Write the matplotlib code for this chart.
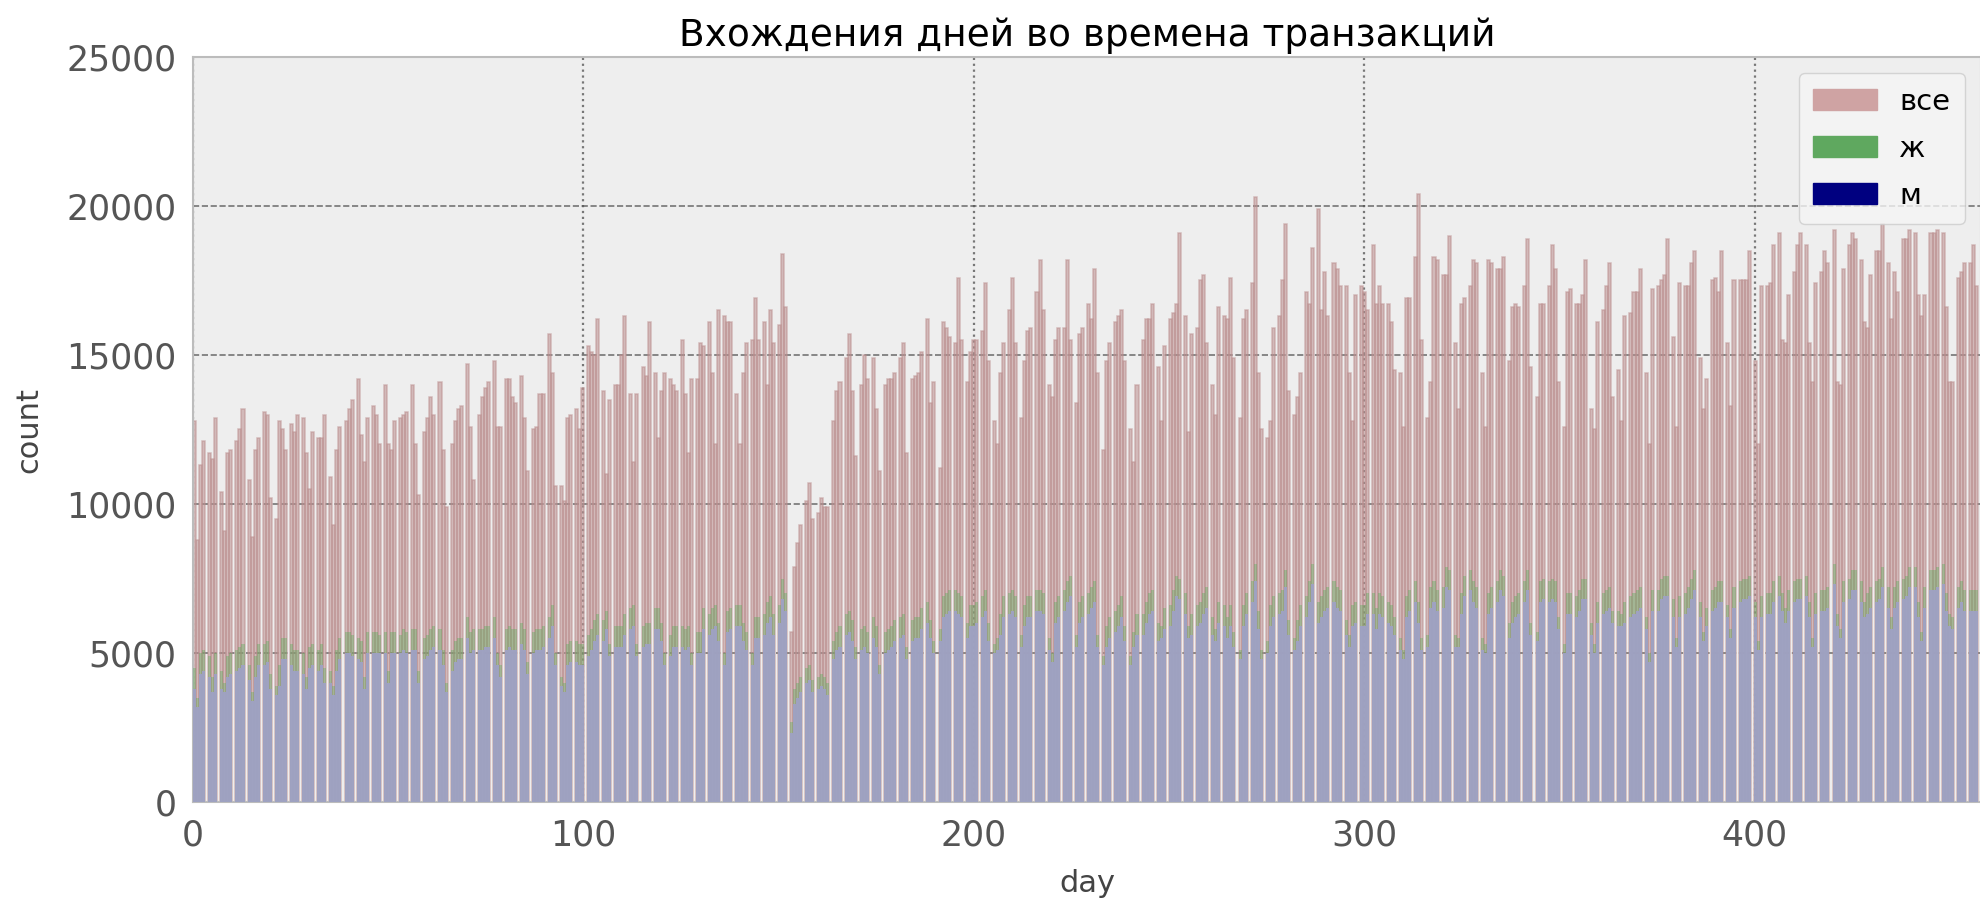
import matplotlib.pyplot as plt
import matplotlib.patches as mpatches
import numpy as np

# daily counts, in hundreds of transactions
vse = [128, 88, 113, 121, 117, 115, 129, 104, 91, 117,
       118, 121, 125, 132, 108, 89, 118, 122, 131, 130,
       102, 95, 128, 125, 118, 127, 124, 130, 129, 117,
       105, 124, 122, 122, 130, 109, 93, 118, 126, 128,
       132, 135, 142, 123, 114, 129, 133, 130, 120, 140,
       120, 118, 128, 129, 130, 131, 140, 120, 103, 124,
       129, 136, 130, 141, 118, 99, 120, 128, 132, 133,
       147, 126, 108, 130, 136, 139, 141, 148, 126, 126,
       142, 142, 136, 134, 143, 129, 111, 125, 126, 137,
       137, 157, 144, 106, 106, 101, 129, 130, 132, 125,
       139, 153, 151, 150, 162, 138, 110, 135, 140, 140,
       150, 163, 137, 114, 137, 146, 143, 161, 144, 122,
       138, 144, 142, 140, 138, 155, 137, 117, 142, 142,
       154, 153, 161, 144, 120, 165, 163, 161, 161, 137,
       120, 144, 154, 155, 169, 155, 161, 140, 165, 154,
       160, 184, 166, 57, 79, 87, 93, 101, 107, 95,
       97, 102, 99, 99, 128, 138, 141, 149, 157, 138,
       116, 140, 150, 142, 149, 132, 111, 140, 142, 142,
       144, 149, 154, 117, 142, 143, 144, 151, 162, 134,
       141, 112, 161, 159, 156, 154, 176, 155, 141, 151,
       155, 155, 158, 174, 148, 128, 120, 144, 154, 165,
       176, 154, 129, 148, 158, 159, 171, 182, 165, 140,
       136, 155, 159, 159, 182, 155, 134, 157, 159, 167,
       162, 179, 144, 118, 148, 154, 161, 163, 165, 148,
       125, 114, 140, 155, 162, 162, 167, 146, 128, 153,
       162, 164, 167, 191, 163, 124, 157, 159, 175, 177,
       154, 140, 130, 166, 163, 162, 176, 149, 129, 162,
       165, 174, 203, 144, 125, 122, 128, 159, 163, 175,
       194, 138, 130, 136, 144, 171, 167, 186, 199, 165,
       178, 163, 181, 179, 173, 173, 144, 128, 170, 173,
       171, 165, 187, 167,
       173, 167, 167, 161, 145, 144, 126, 169, 169, 183,
       204, 155, 129, 141, 183, 182, 177, 177, 190, 154,
       132, 167, 169, 173, 182, 181, 144, 126, 182, 181,
       179, 179, 183, 148, 166, 167, 166, 173, 189, 146,
       136, 167, 167, 173, 187, 179, 141, 126, 171, 172,
       167, 167, 170, 182, 132, 125, 161, 165, 173, 181,
       136, 145, 128, 163, 164, 171, 171, 179, 144, 120,
       172, 173, 175, 177, 189, 156, 126, 174, 173, 173,
       181, 185, 149, 132, 142, 175, 176, 171, 185, 154,
       133, 175, 175, 175, 175, 185, 148, 120, 173, 173,
       174, 187, 191, 155, 154, 170, 178, 187, 191, 187,
       154, 141, 174, 178, 185, 181, 192, 141, 140, 179,
       187, 191, 189, 182, 161, 159, 177, 185, 185, 194,
       181, 162, 178, 171, 189, 189, 192, 191, 170, 163,
       170, 191, 191, 192, 191, 166, 141, 141, 176, 178,
       181, 181, 187, 173]

zh = [45, 35, 50, 51, 49, 42, 50, 44, 40, 49,
      50, 51, 52, 53, 46, 37, 49, 53, 53, 54,
      43, 39, 46, 55, 55, 53, 51, 51, 50, 42,
      52, 53, 51, 53, 45, 44, 39, 51, 55, 57,
      57, 56, 55, 54, 42, 57, 57, 57, 56, 57,
      44, 57, 57, 56, 58, 57, 58, 58, 44, 55,
      56, 58, 59, 58, 51, 40, 51, 54, 55, 55,
      62, 57, 58, 58, 58, 59, 59, 62, 50, 46,
      58, 59, 58, 58, 60, 58, 47, 57, 58, 58,
      59, 62, 66, 50, 42, 40, 53, 54, 54, 53,
      53, 56, 58, 61, 63, 61, 64, 53, 59, 59,
      59, 63, 65, 66, 53, 59, 60, 60, 65, 65,
      60, 50, 56, 59, 59, 59, 58, 59, 50, 57,
      57, 65, 63, 65, 66, 60, 50, 64, 65, 66,
      66, 60, 57, 50, 62, 62, 63, 67, 69, 63,
      66, 75, 70, 27, 38, 40, 42, 45, 46, 41,
      42, 43, 42, 40, 54, 57, 59, 63, 64, 61,
      52, 58, 59, 57, 62, 59, 46, 57, 58, 59,
      61, 62, 63, 52, 61, 62, 62, 65, 67, 61,
      54, 58, 69, 70, 71, 71, 70, 69, 60, 66,
      66, 67, 69, 71, 60, 53, 55, 63, 69, 70,
      71, 69, 56, 66, 69, 69, 71, 71, 70, 55,
      50, 67, 69, 71, 74, 76, 56, 67, 69, 70,
      72, 74, 56, 49, 59, 62, 64, 66, 69, 59,
      49, 57, 63, 63, 67, 70, 71, 60, 59, 65,
      66, 71, 76, 75, 70, 59, 63, 66, 67, 70,
      72, 62, 58, 67, 66, 62, 66, 57, 51, 66,
      70, 74, 80, 64, 51, 54, 66, 69, 70, 71,
      78, 61, 55, 61, 66, 69, 74, 80, 67, 69,
      71, 72, 74, 72, 71, 61, 56, 66, 67, 66,
      66, 70, 70, 65,
      70, 69, 67, 66, 62, 55, 51, 69, 71, 74,
      67, 55, 56, 72, 74, 71, 72, 79, 78, 56,
      55, 70, 76, 78, 74, 72, 55, 53, 70, 72,
      74, 78, 76, 60, 67, 69, 70, 74, 78, 60,
      57, 74, 75, 74, 75, 74, 62, 53, 70, 70,
      69, 71, 75, 75, 60, 53, 67, 70, 71, 72,
      64, 64, 63, 67, 69, 70, 71, 72, 62, 50,
      71, 71, 75, 76, 76, 68, 55, 69, 70, 72,
      75, 78, 67, 57, 65, 71, 72, 74, 74, 66,
      58, 72, 74, 75, 75, 76, 67, 54, 69, 70,
      70, 74, 76, 70, 65, 71, 74, 75, 75, 76,
      67, 55, 70, 71, 71, 72, 80, 63, 58, 74,
      75, 78, 78, 74, 67, 70, 72, 74, 75, 79,
      72, 62, 72, 74, 75, 76, 79, 79, 67, 57,
      72, 78, 78, 79, 80, 70, 63, 62, 72, 74,
      71, 71, 71, 71]

m = [38, 32, 43, 44, 42, 37, 43, 38, 37, 42,
     43, 44, 45, 46, 41, 34, 42, 46, 46, 47,
     38, 36, 39, 48, 48, 46, 44, 44, 43, 38,
     45, 46, 44, 46, 40, 40, 36, 44, 48, 50,
     50, 49, 48, 47, 38, 50, 50, 50, 50, 50,
     40, 50, 50, 50, 51, 50, 51, 51, 40, 48,
     49, 51, 52, 51, 46, 37, 44, 47, 48, 48,
     55, 50, 51, 51, 51, 52, 52, 55, 46, 42,
     51, 52, 51, 51, 53, 51, 43, 50, 51, 51,
     52, 55, 59, 46, 39, 37, 46, 47, 47, 46,
     46, 49, 51, 54, 56, 54, 58, 49, 52, 52,
     52, 56, 58, 59, 49, 52, 53, 53, 58, 58,
     54, 46, 49, 52, 52, 52, 51, 52, 46, 50,
     50, 58, 56, 58, 59, 54, 46, 57, 58, 59,
     59, 54, 51, 46, 55, 55, 56, 60, 62, 56,
     60, 68, 64, 23, 33, 35, 37, 40, 41, 37,
     38, 39, 38, 36, 48, 51, 52, 56, 57, 54,
     48, 51, 52, 50, 55, 52, 43, 50, 51, 52,
     54, 55, 56, 48, 54, 55, 55, 58, 60, 55,
     50, 54, 62, 63, 64, 64, 63, 62, 55, 59,
     59, 60, 62, 64, 54, 50, 51, 56, 62, 63,
     64, 62, 52, 59, 62, 62, 64, 64, 63, 51,
     47, 60, 62, 64, 67, 69, 52, 60, 62, 63,
     65, 67, 52, 46, 52, 55, 57, 59, 62, 54,
     46, 52, 56, 56, 60, 63, 64, 54, 55, 58,
     59, 64, 69, 68, 63, 55, 56, 59, 60, 63,
     65, 56, 54, 60, 59, 55, 59, 52, 48, 59,
     63, 67, 74, 58, 48, 50, 59, 62, 63, 64,
     72, 56, 51, 54, 59, 62, 67, 73, 60, 62,
     64, 65, 67, 65, 64, 56, 52, 59, 60, 59,
     59, 63, 63, 58,
     63, 62, 60, 59, 56, 51, 48, 62, 64, 67,
     60, 51, 52, 65, 67, 64, 65, 72, 71, 52,
     52, 63, 69, 71, 67, 65, 51, 50, 63, 65,
     67, 71, 69, 55, 60, 62, 63, 67, 71, 56,
     54, 67, 68, 67, 68, 67, 58, 50, 63, 63,
     62, 64, 68, 68, 56, 50, 60, 63, 64, 65,
     60, 59, 59, 60, 62, 63, 64, 65, 58, 47,
     64, 64, 68, 69, 69, 62, 52, 62, 63, 65,
     68, 71, 62, 54, 59, 64, 65, 67, 67, 62,
     55, 65, 67, 68, 68, 69, 62, 51, 62, 63,
     63, 67, 69, 64, 60, 64, 67, 68, 68, 69,
     62, 52, 63, 64, 64, 65, 73, 59, 55, 67,
     68, 71, 71, 67, 62, 63, 65, 67, 68, 72,
     65, 58, 65, 67, 68, 69, 72, 72, 62, 54,
     65, 71, 71, 72, 73, 64, 59, 58, 65, 67,
     64, 64, 64, 64]

labels = ["все", "ж", "м"]
n_bins = 590

fig = plt.figure(figsize=(19.81, 8.99), dpi=100)
ax = fig.add_axes([193 / 1981, 1 - 802 / 899, 1 - 193 / 1981, 745 / 899])
ax.set_facecolor("#eeeeee")
ax.set_axisbelow(True)

# все: darker pink with edges so the empty bins look like thin light stripes
days = np.arange(len(vse))
ax.hist(days, bins=n_bins, range=(0, 458), weights=np.array(vse) * 100,
        color="rosybrown", alpha=0.55, zorder=2, edgecolor="rosybrown", linewidth=1.1)
days = np.arange(len(zh))
ax.hist(days, bins=n_bins, range=(0, 458), weights=np.array(zh) * 100,
        color="#4caf50", alpha=0.35, zorder=3)
days = np.arange(len(m))
ax.hist(days, bins=n_bins, range=(0, 458), weights=np.array(m) * 100,
        color="#9fa1c4", alpha=0.95, zorder=4)

ax.set_xlim(0, 458)
ax.set_ylim(0, 25000)
ax.set_xticks([0, 100, 200, 300, 400])
ax.set_yticks([0, 5000, 10000, 15000, 20000, 25000])
ax.yaxis.grid(True, linestyle="--", color="#555555", linewidth=1.2, alpha=0.8)
ax.xaxis.grid(True, linestyle=":", color="#777777", linewidth=1.6)
ax.tick_params(length=0, labelsize=25, labelcolor="#555555", pad=12)
for s in ax.spines.values():
    s.set_color("#bcbcbc")
    s.set_linewidth(1.5)

ax.set_title("Вхождения дней во времена транзакций", fontsize=27, pad=8)
ax.set_xlabel("day", fontsize=22, color="#444444", labelpad=12)
ax.set_ylabel("count", fontsize=22, color="#444444", labelpad=16)

handles = [mpatches.Patch(color="#cfa3a3"), mpatches.Patch(color="#5fa85f"),
           mpatches.Patch(color="#000080")]
leg = ax.legend(handles, labels, loc="upper right", fontsize=21, frameon=True,
                handlelength=2.2, handleheight=0.7, handletextpad=0.75,
                borderpad=0.5, labelspacing=0.65, fancybox=True, borderaxespad=0.55)
leg.get_frame().set_facecolor("#f5f5f5")
leg.get_frame().set_edgecolor("#cccccc")
leg.set_zorder(10)

fig.savefig("out.png", dpi=100)
